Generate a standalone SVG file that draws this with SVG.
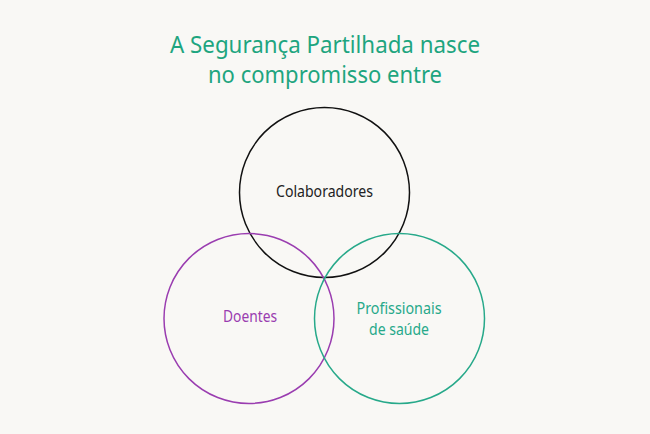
<svg xmlns="http://www.w3.org/2000/svg" width="650" height="434" viewBox="0 0 650 434">
<style>
.t{font-family:"Noto Sans","Open Sans",sans-serif;text-anchor:middle}
.c{fill:none;stroke-width:1.5}
</style>
<rect width="650" height="434" fill="#f9f8f5"/>
<g id="title" fill="#1ea57f" class="t" font-size="24">
<text class="t" x="325" y="53" textLength="310" lengthAdjust="spacingAndGlyphs">A Segurança Partilhada nasce</text>
<text class="t" x="325" y="83" textLength="234" lengthAdjust="spacingAndGlyphs">no compromisso entre</text>
</g>
<g id="colaboradores">
<circle class="c" cx="324.5" cy="192.5" r="85" stroke="#111"/>
<text class="t" x="324.5" y="197" font-size="15.5" fill="#222" textLength="97" lengthAdjust="spacingAndGlyphs">Colaboradores</text>
</g>
<g id="doentes">
<circle class="c" cx="249" cy="318.5" r="85" stroke="#9a3db0"/>
<text class="t" x="250" y="321.5" font-size="15.5" fill="#9a3db0" textLength="54" lengthAdjust="spacingAndGlyphs">Doentes</text>
</g>
<g id="profissionais">
<circle class="c" cx="399.5" cy="318.5" r="85" stroke="#27a98a"/>
<text class="t" x="399" y="314" font-size="15.5" fill="#27a98a" textLength="85" lengthAdjust="spacingAndGlyphs">Profissionais</text>
<text class="t" x="399" y="335" font-size="15.5" fill="#27a98a" textLength="60" lengthAdjust="spacingAndGlyphs">de saúde</text>
</g>
<g id="connectors"/>
</svg>
